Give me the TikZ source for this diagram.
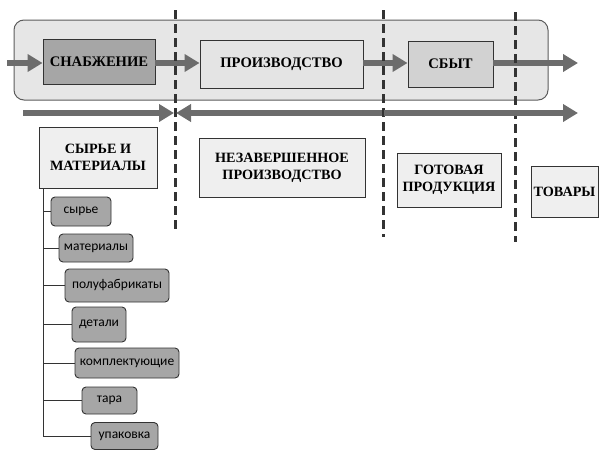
\documentclass[tikz,border=0pt]{standalone}
\usepackage{fontspec}
\setmainfont{Liberation Serif}
\newfontfamily\itemfont{Carlito}
\usepackage{tikz}
\usetikzlibrary{arrows.meta}
\usepackage{xcolor}
\definecolor{FlowFrame}{HTML}{E6E6E6}
\definecolor{FlowDark}{HTML}{A6A6A6}
\definecolor{FlowMid}{HTML}{D2D2D2}
\definecolor{FlowLight}{HTML}{E4E4E4}
\definecolor{FlowPale}{HTML}{EFEFEF}
\definecolor{FlowArrow}{HTML}{6C6C6C}
\definecolor{FlowLine}{HTML}{333333}

\begin{document}
\begin{tikzpicture}[x=1pt,y=-1pt,
    stage/.style={draw=FlowLine,line width=0.9pt,inner sep=0pt,align=center,
      font=\fontsize{14.6}{16}\selectfont\bfseries},
    stock/.style={stage,fill=FlowPale,font=\fontsize{14.2}{17}\selectfont\bfseries},
    part/.style={draw=FlowLine,line width=0.9pt,fill=FlowDark,rounded corners=4pt,
      inner sep=0pt,font=\fontsize{13.5}{16}\selectfont\itemfont},
    flow/.style={FlowArrow,line width=5.5pt,-{Triangle[length=15pt,width=17pt]}},
    border/.style={FlowLine,line width=3pt,dash pattern=on 9pt off 5pt}]
  \useasboundingbox (0,0) rectangle (599,450);
  \draw[FlowLine!80,line width=1pt,fill=FlowFrame,rounded corners=10pt]
    (14,20) rectangle (548,100);
  % stages
  \node[stage,fill=FlowDark,minimum width=112pt,minimum height=45pt]
    (snab) at (99,61.5) {СНАБЖЕНИЕ};
  \node[stage,fill=FlowLight,minimum width=163pt,minimum height=48pt]
    (proizv) at (281.5,64) {ПРОИЗВОДСТВО};
  \node[stage,fill=FlowMid,minimum width=85pt,minimum height=46pt]
    (sbyt) at (450.5,64) {СБЫТ};
  \coordinate (in) at (7,63);
  \coordinate (out) at (578,63);
  \draw[flow] (in) -- (snab.west |- in);
  \draw[flow] (snab.east |- in) -- (proizv.west |- in);
  \draw[flow] (proizv.east |- in) -- (sbyt.west |- in);
  \draw[flow] (sbyt.east |- in) -- (out);
  % borders
  \draw[border] (175,10) -- (175,232);
  \draw[border] (383,10) -- (383,237);
  \draw[border] (515,12) -- (515,242);
  % stocks
  \coordinate (s0) at (23,113);
  \coordinate (s1) at (174,113);
  \coordinate (s2) at (176,113);
  \coordinate (s3) at (382,113);
  \coordinate (s4) at (384,113);
  \coordinate (s5) at (578,113);
  \draw[flow] (s0) -- (s1);
  \draw[flow,{Triangle[length=15pt,width=17pt]}-] (s2) -- (s3);
  \draw[flow] (s4) -- (s5);
  \node[stock,minimum width=118pt,minimum height=61pt]
    (raw) at (98,157.5) {СЫРЬЕ И\\МАТЕРИАЛЫ};
  \node[stock,minimum width=166pt,minimum height=59pt]
    (wip) at (282,167.5) {НЕЗАВЕРШЕННОЕ\\ПРОИЗВОДСТВО};
  \node[stock,minimum width=104pt,minimum height=54pt]
    (fin) at (449,180) {ГОТОВАЯ\\ПРОДУКЦИЯ};
  \node[stock,minimum width=67pt,minimum height=51pt]
    (goods) at (564.5,191.5) {ТОВАРЫ};
  % kinds of raw stock
  \node[part,minimum width=60pt,minimum height=29pt] (p1) at (81,211.5) {сырье};
  \node[part,minimum width=74pt,minimum height=28pt] (p2) at (96,248) {материалы};
  \node[part,minimum width=104pt,minimum height=33pt] (p3) at (117,285.5) {полуфабрикаты};
  \node[part,minimum width=54pt,minimum height=35pt] (p4) at (99,324.5) {детали};
  \node[part,minimum width=104pt,minimum height=30pt] (p5) at (127,363) {комплектующие};
  \node[part,minimum width=55pt,minimum height=27pt] (p6) at (109.5,400.5) {тара};
  \node[part,minimum width=67pt,minimum height=27pt] (p7) at (124.5,436) {упаковка};
  \coordinate (trunk) at (43,188);
  \foreach \p in {p1,p2,p3,p4,p5,p6,p7}
    \draw[FlowLine,line width=0.8pt] (trunk) |- (\p.west);
\end{tikzpicture}
\end{document}
